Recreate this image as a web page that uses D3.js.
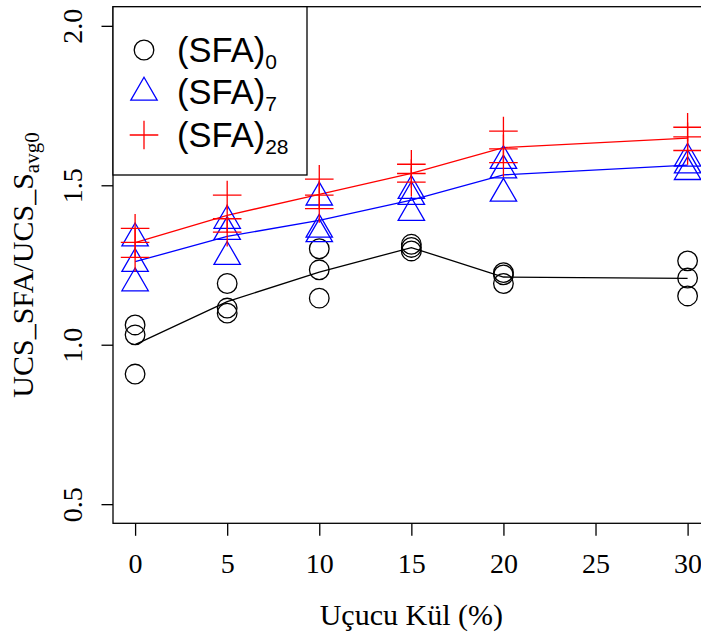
<!DOCTYPE html>
<html>
<head>
<meta charset="utf-8">
<script src="https://cdn.jsdelivr.net/npm/d3@7"></script>
<style>
  html, body { margin: 0; padding: 0; background: #fff; }
  svg { display: block; }
</style>
</head>
<body>
<div id="chart"></div>
<script>
// ---- data ----
const flyAsh = [0, 5, 10, 15, 20, 30];
const sfa0 = [
  [1.062, 1.031, 0.908],
  [1.192, 1.115, 1.099],
  [1.301, 1.235, 1.146],
  [1.315, 1.305, 1.294],
  [1.226, 1.219, 1.192],
  [1.263, 1.209, 1.153]
];
const sfa7 = [
  [1.334, 1.254, 1.193],
  [1.389, 1.354, 1.276],
  [1.462, 1.361, 1.347],
  [1.483, 1.464, 1.414],
  [1.577, 1.547, 1.474],
  [1.584, 1.563, 1.542]
];
const sfa28 = [
  [1.365, 1.321, 1.274],
  [1.469, 1.395, 1.353],
  [1.519, 1.469, 1.427],
  [1.566, 1.537, 1.510],
  [1.670, 1.614, 1.571],
  [1.682, 1.652, 1.609]
];
const xTicks = [0, 5, 10, 15, 20, 25, 30];
const yTicks = [0.5, 1.0, 1.5, 2.0];
const seriesNames = ["(SFA)", "(SFA)", "(SFA)"];
const seriesSubs = ["0", "7", "28"];
const seriesColors = ["#000000", "#0000ff", "#ff0000"];
const seriesShapes = ["circle", "triangle", "plus"];
const xTitle = "Uçucu Kül (%)";
const yTitleMain = "UCS_SFA/UCS_S";
const yTitleSub = "avg0";

// ---- layout ----
const W = 701, H = 635;
const svg = d3.select("#chart").append("svg").attr("width", W).attr("height", H);

const x = d3.scaleLinear().domain([-1.2, 31.2]).range([113, 709.7]);
const y = d3.scaleLinear().domain([0.44, 2.06]).range([523.3, 6.7]);

const serif = "'Liberation Serif', 'Times New Roman', serif";
const sans = "'Liberation Sans', Arial, sans-serif";

// symbol drawing (R-like pch 1, 2, 3)
const R0 = 9.8;
function drawSymbol(g, shape, cx, cy, color) {
  if (shape === "circle") {
    g.append("circle").attr("cx", cx).attr("cy", cy).attr("r", R0)
      .attr("fill", "none").attr("stroke", color).attr("stroke-width", 1.3);
  } else if (shape === "triangle") {
    const r = 1.555 * R0, xc = 1.347 * R0, yc = 0.7776 * R0;
    g.append("path")
      .attr("d", `M${cx},${cy - r}L${cx + xc},${cy + yc}L${cx - xc},${cy + yc}Z`)
      .attr("fill", "none").attr("stroke", color).attr("stroke-width", 1.3);
  } else {
    const a = 14.3;
    g.append("path")
      .attr("d", `M${cx - a},${cy}H${cx + a}M${cx},${cy - a}V${cy + a}`)
      .attr("fill", "none").attr("stroke", color).attr("stroke-width", 1.3);
  }
}

const plot = svg.append("g");
const allSeries = [sfa0, sfa7, sfa28];

// mean lines
allSeries.forEach((s, i) => {
  const means = flyAsh.map((fx, j) => [fx, d3.mean(s[j])]);
  plot.append("path")
    .attr("d", d3.line().x(d => x(d[0])).y(d => y(d[1]))(means))
    .attr("fill", "none").attr("stroke", seriesColors[i]).attr("stroke-width", 1.3);
});

// points
allSeries.forEach((s, i) => {
  const g = plot.append("g");
  flyAsh.forEach((fx, j) => {
    s[j].forEach(v => drawSymbol(g, seriesShapes[i], x(fx), y(v), seriesColors[i]));
  });
});

// box
svg.append("rect").attr("x", x(-1.2)).attr("y", y(2.06))
  .attr("width", x(31.2) - x(-1.2)).attr("height", y(0.44) - y(2.06))
  .attr("fill", "none").attr("stroke", "#000").attr("stroke-width", 1.3);

// y axis
const yAx = svg.append("g").attr("transform", `translate(${x(-1.2)},0)`)
  .attr("font-family", serif)
  .call(d3.axisLeft(y).tickValues(yTicks).tickSize(11.5).tickFormat(d3.format(".1f")));
yAx.attr("font-family", serif);
yAx.select(".domain").remove();
yAx.selectAll(".tick line").attr("stroke", "#000").attr("stroke-width", 1.3);
yAx.selectAll(".tick text")
  .attr("x", 0).attr("y", 0).attr("dy", null)
  .attr("transform", "translate(-31,0) rotate(-90)")
  .attr("text-anchor", "middle")
  .style("font-family", serif).attr("font-size", 28).attr("fill", "#000");

// x axis
const xAx = svg.append("g").attr("transform", `translate(0,${y(0.44)})`)
  .call(d3.axisBottom(x).tickValues(xTicks).tickSize(12.5).tickFormat(d3.format("d")));
xAx.attr("font-family", serif);
xAx.select(".domain").remove();
xAx.selectAll(".tick line").attr("stroke", "#000").attr("stroke-width", 1.3);
xAx.selectAll(".tick text")
  .attr("y", 50).attr("dy", null)
  .style("font-family", serif).attr("font-size", 28).attr("fill", "#000");

// x title
svg.append("text")
  .attr("x", (x(-1.2) + x(31.2)) / 2).attr("y", 625)
  .attr("text-anchor", "middle")
  .style("font-family", serif).attr("font-size", 30).attr("fill", "#000")
  .text(xTitle);

// y title
const yt = svg.append("text")
  .attr("transform", `translate(33,${(y(0.44) + y(2.06)) / 2}) rotate(-90)`)
  .attr("text-anchor", "middle")
  .style("font-family", serif).attr("font-size", 30).attr("fill", "#000");
yt.append("tspan").text(yTitleMain);
yt.append("tspan").attr("font-size", 21).attr("dy", 6).text(yTitleSub);

// legend
const lg = svg.append("g");
lg.append("rect").attr("x", x(-1.2)).attr("y", y(2.06))
  .attr("width", 307 - x(-1.2)).attr("height", 175 - y(2.06))
  .attr("fill", "#fff").attr("stroke", "#000").attr("stroke-width", 1.3);
const rowY = [50, 92.5, 135];
seriesNames.forEach((nm, i) => {
  drawSymbol(lg, seriesShapes[i], 144, rowY[i], seriesColors[i]);
  const t = lg.append("text")
    .attr("x", 177).attr("y", rowY[i] + 11.5)
    .style("font-family", sans).attr("font-size", 34.5).attr("fill", "#000");
  t.append("tspan").text(nm);
  t.append("tspan").attr("font-size", 21).attr("dy", 7).text(seriesSubs[i]);
});
</script>
</body>
</html>
